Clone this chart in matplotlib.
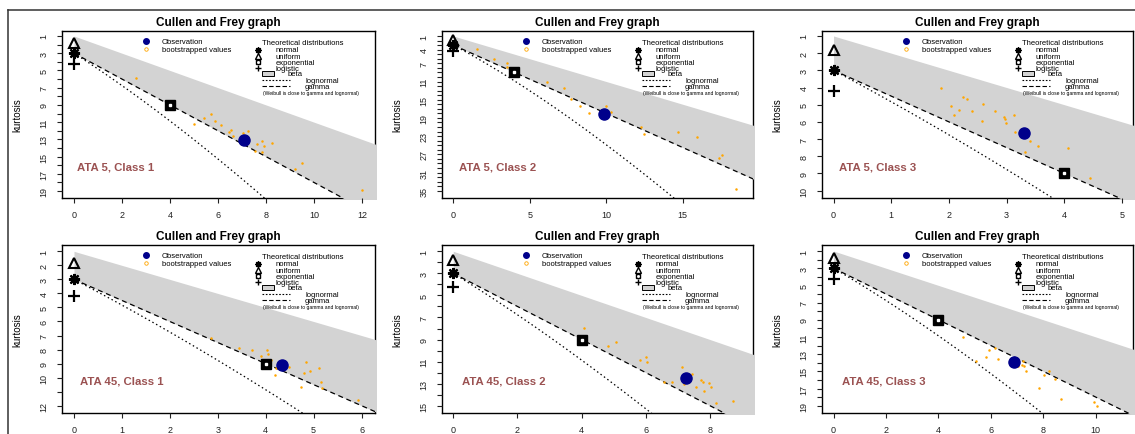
import numpy as np
import matplotlib.pyplot as plt
from matplotlib.lines import Line2D
from matplotlib.patches import Rectangle
from matplotlib.transforms import offset_copy

plt.rcParams['font.family'] = ['Liberation Sans', 'DejaVu Sans']

# panel names
panel_names = ["ATA 5, Class 1", "ATA 5, Class 2", "ATA 5, Class 3",
               "ATA 45, Class 1", "ATA 45, Class 2", "ATA 45, Class 3"]

# observed (square of skewness, kurtosis)
obs_skew2 = [7.10, 9.87, 3.30, 4.34, 7.25, 6.89]
obs_kurt = [13.05, 18.10, 6.63, 9.10, 12.51, 13.88]

# bootstrapped values
boot_skew2 = [
    [2.57, 5.01, 5.43, 5.70, 5.88, 6.12, 6.45, 6.54, 6.61, 7.03, 7.24, 7.61, 7.83, 7.93, 7.54, 7.83, 8.24, 9.20, 9.51, 11.99],
    [1.53, 2.68, 3.49, 3.51, 6.10, 7.21, 7.67, 8.28, 8.89, 9.98, 10.30, 12.27, 12.46, 14.70, 15.97, 17.39, 17.58, 18.46],
    [1.86, 2.03, 2.09, 2.17, 2.25, 2.32, 2.40, 2.57, 2.59, 2.79, 2.95, 2.98, 2.99, 3.12, 3.15, 3.40, 3.54, 3.32, 4.07, 4.44],
    [2.85, 3.45, 3.72, 3.90, 4.02, 4.04, 4.12, 4.21, 4.19, 4.48, 4.80, 4.84, 4.92, 5.11, 5.15, 5.17, 4.73, 5.93],
    [4.07, 4.81, 5.07, 5.82, 6.00, 6.05, 6.57, 6.82, 7.12, 7.20, 7.44, 7.57, 7.72, 7.81, 7.77, 7.98, 8.02, 8.18, 8.71],
    [4.92, 5.44, 5.81, 5.93, 6.16, 6.29, 7.05, 7.18, 7.22, 7.28, 7.34, 7.84, 8.02, 8.21, 8.45, 8.68, 9.95, 10.05],
]
boot_kurt = [
    [5.85, 11.23, 10.46, 10.00, 10.85, 11.30, 12.10, 11.86, 12.60, 12.20, 12.05, 13.50, 13.20, 13.76, 14.40, 14.45, 13.40, 16.40, 15.77, 18.84],
    [3.80, 6.00, 6.88, 7.80, 11.00, 12.39, 14.80, 16.30, 17.90, 16.40, 17.80, 20.90, 22.50, 22.00, 23.30, 27.70, 27.10, 34.60],
    [4.01, 5.10, 5.57, 5.29, 4.58, 4.69, 5.35, 5.96, 4.93, 5.39, 5.72, 5.82, 6.07, 5.59, 6.60, 7.14, 7.39, 7.78, 7.53, 9.26],
    [7.20, 7.90, 8.03, 8.46, 8.03, 8.31, 8.72, 9.29, 9.79, 9.22, 9.69, 8.86, 9.50, 9.31, 10.29, 10.74, 10.69, 11.57],
    [7.98, 9.56, 9.22, 10.83, 10.61, 11.00, 12.87, 12.87, 11.46, 13.03, 12.15, 13.27, 12.64, 13.69, 12.87, 12.96, 13.33, 14.78, 14.60],
    [10.98, 13.76, 13.37, 12.55, 12.27, 13.56, 14.43, 14.23, 13.76, 14.43, 14.93, 16.96, 15.48, 15.01, 15.84, 18.18, 18.53, 19.00],
]

# axis ticks per panel
x_ticks = [[0, 2, 4, 6, 8, 10, 12], [0, 5, 10, 15], [0, 1, 2, 3, 4, 5],
           [0, 1, 2, 3, 4, 5, 6], [0, 2, 4, 6, 8], [0, 2, 4, 6, 8, 10]]
y_max_tick = [19, 35, 10, 12, 15, 19]
y_tick_labels = [[1, 3, 5, 7, 9, 11, 13, 15, 17, 19],
                 [1, 4, 7, 11, 15, 19, 23, 27, 31, 35],
                 [1, 2, 3, 4, 5, 6, 7, 8, 9, 10],
                 [1, 2, 3, 4, 5, 6, 7, 8, 9, 10, 12],
                 [1, 3, 5, 7, 9, 11, 13, 15],
                 [1, 3, 5, 7, 9, 11, 13, 15, 17, 19]]
x_lims = [(-0.5, 12.54), (-0.74, 19.6), (-0.2, 5.19), (-0.25, 6.28), (-0.35, 9.34), (-0.44, 11.42)]
y_lims = [(19.8, 0.42), (36.6, -0.1), (10.43, 0.71), (12.52, 0.55), (15.66, 0.43), (19.85, 0.3)]

# theoretical distributions (square of skewness, kurtosis)
normal_pt = (0, 3)
uniform_pt = (0, 1.8)
logistic_pt = (0, 4.2)
exponential_pt = (4, 9)

W, H = 1135, 435
fig = plt.figure(figsize=(W / 100, H / 100), dpi=100)

# axes boxes in pixels: left, top, right, bottom
col_px = [(62, 375), (442, 753), (822, 1133)]
row_px = [(32, 199), (246, 414)]
label_dx = [15, 17, 17, 18, 20, 20]

label_color = '#9b5252'
asterisk = (8, 2, 0)


def px(ax, dx, dy):
    # offset in pixels from the top-left corner of the axes
    return offset_copy(ax.transAxes, fig=fig, x=dx, y=-dy, units='dots')


def draw_legend(ax, aw, ah):
    fs = 5.5
    t = lambda dx, dy: px(ax, dx, dy)
    ax.plot(0, 1, 'o', color='darkblue', ms=4, transform=t(83.7, 10), clip_on=False, zorder=5)
    ax.text(0, 1, "Observation", transform=t(99.7, 10), fontsize=fs, va='center')
    ax.plot(0, 1, 'o', mfc='none', mec='orange', ms=2.5, mew=0.6, transform=t(83.7, 18), clip_on=False, zorder=5)
    ax.text(0, 1, "bootstrapped values", transform=t(99.7, 18), fontsize=fs, va='center')

    ax.text(0, 1, "Theoretical distributions", transform=t(200.3, 11.3), fontsize=fs, va='center')
    ax.plot(0, 1, marker=asterisk, color='black', ms=4.5, mew=1, transform=t(196.3, 18.7), clip_on=False, zorder=5)
    ax.text(0, 1, "normal", transform=t(213.7, 18.7), fontsize=fs, va='center')
    ax.plot(0, 1, '^', mfc='none', mec='black', ms=4, mew=1, transform=t(196.3, 25.3), clip_on=False, zorder=5)
    ax.text(0, 1, "uniform", transform=t(213.7, 25.3), fontsize=fs, va='center')
    ax.plot(0, 1, 's', color='black', ms=3.3, transform=t(196.3, 31.3), clip_on=False, zorder=5)
    ax.plot(0, 1, 's', color='white', ms=1, transform=t(196.3, 31.3), clip_on=False, zorder=6)
    ax.text(0, 1, "exponential", transform=t(213.7, 31.3), fontsize=fs, va='center')
    ax.plot(0, 1, '+', color='black', ms=5, mew=1, transform=t(196.3, 37.3), clip_on=False, zorder=5)
    ax.text(0, 1, "logistic", transform=t(213.7, 37.3), fontsize=fs, va='center')
    ax.add_patch(Rectangle((0, 1), 12 / aw, 5 / ah, transform=px(ax, 199.7, 45.2),
                           facecolor='lightgrey', edgecolor='black', lw=0.7, clip_on=False))
    ax.text(0, 1, "beta", transform=t(225.3, 42.7), fontsize=fs, va='center')
    ax.plot([0, 28 / aw], [1, 1], color='black', lw=0.8, ls=(0, (1.5, 1.5)), transform=t(199.7, 49.3), clip_on=False)
    ax.text(0, 1, "lognormal", transform=t(243, 49.3), fontsize=fs, va='center')
    ax.plot([0, 28 / aw], [1, 1], color='black', lw=0.8, ls=(0, (4, 2)), transform=t(199.7, 55.3), clip_on=False)
    ax.text(0, 1, "gamma", transform=t(243, 55.3), fontsize=fs, va='center')
    ax.text(0, 1, "(Weibull is close to gamma and lognormal)", transform=t(201.3, 61.3), fontsize=3.6,
            va='center', clip_on=True)


for i in range(6):
    r, c = divmod(i, 3)
    l, rr = col_px[c]
    top, bot = row_px[r]
    aw, ah = rr - l, bot - top
    ax = fig.add_axes([l / W, 1 - bot / H, aw / W, ah / H])
    ax.set_xlim(*x_lims[i])
    ax.set_ylim(*y_lims[i])

    # beta region between kurt = s2 + 1 and the gamma line kurt = 3 + 1.5 s2
    # (drawn over the box like in R, so it hides the frame where it lies)
    s2 = np.linspace(0, x_lims[i][1] + 1, 200)
    beta = ax.fill_between(s2, 1 + s2, 3 + 1.5 * s2, color='lightgrey', lw=0, zorder=1)
    beta.set_clip_path(Rectangle((-1.2 / aw, -1.2 / ah), 1 + 2.4 / aw, 1 + 2.4 / ah, transform=ax.transAxes))
    ax.plot(s2, 3 + 1.5 * s2, color='black', lw=0.9, ls=(0, (4, 3)), zorder=2)

    # lognormal line
    w = np.linspace(1, 3, 600)
    ax.plot((w + 2) ** 2 * (w - 1), w ** 4 + 2 * w ** 3 + 3 * w ** 2 - 3,
            color='black', lw=0.9, ls=(0, (1.2, 2.2)), zorder=2)

    # theoretical points
    ax.plot(*normal_pt, marker=asterisk, color='black', ms=8, mew=1.6, zorder=4, clip_on=False)
    ax.plot(*uniform_pt, marker='^', mfc='none', mec='black', ms=7, mew=1.5, zorder=4, clip_on=False)
    ax.plot(*logistic_pt, marker='+', color='black', ms=9, mew=1.6, zorder=4, clip_on=False)
    ax.plot(*exponential_pt, marker='s', color='black', ms=7, zorder=4)
    ax.plot(*exponential_pt, marker='s', color='white', ms=1.5, zorder=4)

    # bootstrap and observation
    ax.plot(boot_skew2[i], boot_kurt[i], 'o', color='#ffa500', ms=1.8, mew=0, zorder=3)
    ax.plot(obs_skew2[i], obs_kurt[i], 'o', color='darkblue', ms=8, zorder=5)

    for sp in ax.spines.values():
        sp.set_zorder(0.5)
        sp.set_linewidth(1.0)

    ax.set_xticks(x_ticks[i])
    ax.set_yticks(np.arange(1, y_max_tick[i] + 1))
    ax.set_yticklabels([str(v) if v in y_tick_labels[i] else '' for v in range(1, y_max_tick[i] + 1)],
                       rotation=90, va='center')
    ax.tick_params(axis='both', length=3.6, width=0.8, labelsize=6.5, colors='#222222')
    ax.tick_params(axis='x', pad=5)
    ax.tick_params(axis='y', pad=6)

    ax.set_title("Cullen and Frey graph", fontsize=8.5, fontweight='bold', pad=4)
    ax.set_ylabel("kurtosis", fontsize=7, va='center')
    ax.yaxis.set_label_coords(-45 / aw, 0.5)

    ax.text(0, 1, panel_names[i], transform=px(ax, label_dx[i], 136), fontsize=8.2,
            fontweight='bold', color=label_color, va='center')
    draw_legend(ax, aw, ah)

# outer frame lines of the composite
fig.add_artist(Line2D([8 / W, 1], [1 - 11 / H, 1 - 11 / H], color='#333333', lw=1.1))
fig.add_artist(Line2D([8 / W, 8 / W], [0, 1 - 11 / H], color='#333333', lw=1.1))

fig.savefig("out.png", dpi=100)
